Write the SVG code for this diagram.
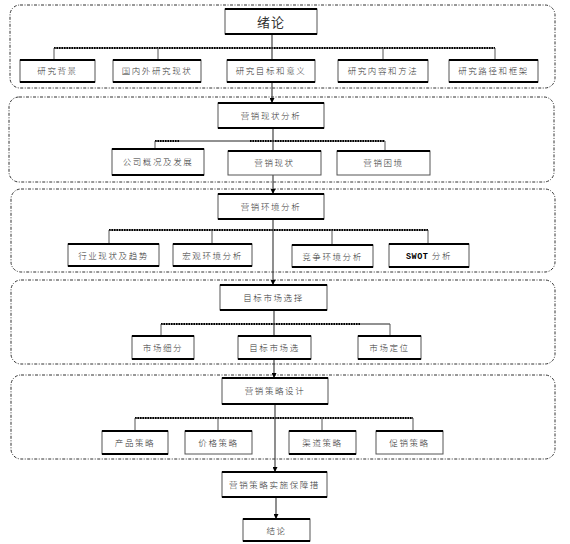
<svg xmlns="http://www.w3.org/2000/svg" width="570" height="544" viewBox="0 0 570 544">
<style>
.sec{fill:none;stroke:#333;stroke-width:1;stroke-dasharray:3 1.5 1 1.5}
.box{fill:#fff;stroke:#555;stroke-width:1}
.tb{fill:none;stroke:#000;stroke-width:2.2}
.t{font-family:"Noto Sans CJK SC","Noto Sans",sans-serif;font-size:8.5px;font-weight:300;fill:#333;text-anchor:middle;letter-spacing:1.6px}
.big{font-size:13px;letter-spacing:1px;font-weight:400}
.bus{fill:none;stroke:#222;stroke-width:1}
.busd{fill:none;stroke:#000;stroke-width:2;stroke-dasharray:1.5 1}
.drop{fill:none;stroke:#555;stroke-width:1}
.main{fill:none;stroke:#444;stroke-width:1.2}
</style>
<defs>
<marker id="ah" viewBox="0 0 8 8" refX="8" refY="4" markerWidth="5" markerHeight="5" orient="auto" markerUnits="userSpaceOnUse">
<path d="M0,0 L8,4 L0,8 z" fill="#000"/>
</marker>
</defs>
<g id="sections">
<rect class="sec" x="10" y="5" width="545" height="83" rx="10"/>
<rect class="sec" x="9" y="97" width="545" height="85" rx="10"/>
<rect class="sec" x="11" y="189" width="544" height="83" rx="10"/>
<rect class="sec" x="11" y="280" width="544" height="84" rx="10"/>
<rect class="sec" x="11" y="375" width="544" height="84" rx="10"/>
</g>
<g id="connectors">
<path class="bus" d="M54,48 H495"/><path class="busd" d="M54,48 H495"/>
<path class="drop" d="M54,48 V60 M158,48 V60 M383,48 V60 M495,48 V60"/>
<path class="bus" d="M155,141 H385"/><path class="busd" d="M155,141 H180 M250,141 H385"/>
<path class="drop" d="M155,141 V149 M385,141 V151"/>
<path class="bus" d="M109,230 H428"/><path class="busd" d="M109,230 H428"/>
<path class="drop" d="M109,230 V244 M212,230 V244 M332,230 V245 M428,230 V244"/>
<path class="bus" d="M161,324 H390"/><path class="busd" d="M161,324 H360"/>
<path class="drop" d="M161,324 V336 M390,324 V336"/>
<path class="bus" d="M135,418 H413"/><path class="busd" d="M135,418 H413"/>
<path class="drop" d="M135,418 V431 M218,418 V431 M322,418 V431 M413,418 V431"/>
<path class="main" d="M272,34 V60"/>
<path class="main" d="M272,82 V103" marker-end="url(#ah)"/>
<path class="main" d="M273,128 V151"/>
<path class="main" d="M273,175 V194" marker-end="url(#ah)"/>
<path class="main" d="M273,219 V285" marker-end="url(#ah)"/>
<path class="main" d="M274,310 V336"/>
<path class="main" d="M274,359 V378" marker-end="url(#ah)"/>
<path class="main" d="M275,404 V472" marker-end="url(#ah)"/>
<path class="main" d="M276,497 V519" marker-end="url(#ah)"/>
</g>
<g id="n0"><rect class="box" x="225" y="9" width="92" height="25"/><path class="tb" d="M225,9 h92 M225,34 h92"/><text class="t big" x="271" y="26.5">绪论</text></g>
<g id="n1"><rect class="box" x="20" y="60" width="75" height="22"/><path class="tb" d="M20,60 h75 M20,82 h75"/><text class="t" x="57.5" y="74">研究背景</text></g>
<g id="n2"><rect class="box" x="113" y="60" width="88" height="22"/><path class="tb" d="M113,60 h88 M113,82 h88"/><text class="t" x="157" y="74">国内外研究现状</text></g>
<g id="n3"><rect class="box" x="227" y="60" width="88" height="22"/><path class="tb" d="M227,60 h88 M227,82 h88"/><text class="t" x="271" y="74">研究目标和意义</text></g>
<g id="n4"><rect class="box" x="338" y="60" width="90" height="22"/><path class="tb" d="M338,60 h90 M338,82 h90"/><text class="t" x="383" y="74">研究内容和方法</text></g>
<g id="n5"><rect class="box" x="449" y="60" width="89" height="22"/><path class="tb" d="M449,60 h89 M449,82 h89"/><text class="t" x="493.5" y="74">研究路径和框架</text></g>
<g id="n6"><rect class="box" x="218" y="103" width="106" height="25"/><path class="tb" d="M218,103 h106 M218,128 h106"/><text class="t" x="271" y="118.5">营销现状分析</text></g>
<g id="n7"><rect class="box" x="112" y="149" width="92" height="26"/><path class="tb" d="M112,149 h92 M112,175 h92"/><text class="t" x="158" y="165">公司概况及发展</text></g>
<g id="n8"><rect class="box" x="228" y="151" width="93" height="24"/><path class="tb" d="M228,151 h93"/><text class="t" x="274.5" y="166">营销现状</text></g>
<g id="n9"><rect class="box" x="337" y="151" width="93" height="24"/><path class="tb" d="M337,151 h93"/><text class="t" x="383.5" y="166">营销困境</text></g>
<g id="n10"><rect class="box" x="218" y="194" width="106" height="25"/><path class="tb" d="M218,194 h106 M218,219 h106"/><text class="t" x="271" y="209.5">营销环境分析</text></g>
<g id="n11"><rect class="box" x="68" y="244" width="91" height="22"/><path class="tb" d="M68,244 h91 M68,266 h91"/><text class="t" x="113.5" y="258.5">行业现状及趋势</text></g>
<g id="n12"><rect class="box" x="173" y="244" width="79" height="22"/><path class="tb" d="M173,244 h79 M173,266 h79"/><text class="t" x="212.5" y="258.5">宏观环境分析</text></g>
<g id="n13"><rect class="box" x="292" y="245" width="81" height="22"/><path class="tb" d="M292,245 h81 M292,267 h81"/><text class="t" x="332.5" y="259.5">竞争环境分析</text></g>
<g id="n14"><rect class="box" x="389" y="244" width="80" height="23"/><path class="tb" d="M389,244 h80 M389,267 h80"/><text class="t" x="429" y="259"><tspan font-family="Liberation Mono,monospace" font-weight="bold" fill="#000" letter-spacing="0.5px">SWOT</tspan> 分析</text></g>
<g id="n15"><rect class="box" x="220" y="285" width="107" height="25"/><path class="tb" d="M220,285 h107 M220,310 h107"/><text class="t" x="273.5" y="300.5">目标市场选择</text></g>
<g id="n16"><rect class="box" x="132" y="336" width="62" height="23"/><path class="tb" d="M132,336 h62 M132,359 h62"/><text class="t" x="163" y="350.5">市场细分</text></g>
<g id="n17"><rect class="box" x="238" y="336" width="73" height="23"/><path class="tb" d="M238,336 h73 M238,359 h73"/><text class="t" x="274.5" y="350.5">目标市场选</text></g>
<g id="n18"><rect class="box" x="358" y="336" width="63" height="23"/><path class="tb" d="M358,336 h63 M358,359 h63"/><text class="t" x="389.5" y="350.5">市场定位</text></g>
<g id="n19"><rect class="box" x="222" y="378" width="106" height="26"/><path class="tb" d="M222,378 h106 M222,404 h106"/><text class="t" x="275" y="394">营销策略设计</text></g>
<g id="n20"><rect class="box" x="102" y="431" width="66" height="23"/><path class="tb" d="M102,431 h66 M102,454 h66"/><text class="t" x="135" y="446">产品策略</text></g>
<g id="n21"><rect class="box" x="185" y="431" width="67" height="23"/><path class="tb" d="M185,431 h67"/><text class="t" x="218.5" y="446">价格策略</text></g>
<g id="n22"><rect class="box" x="289" y="431" width="67" height="23"/><path class="tb" d="M289,431 h67 M289,454 h67"/><text class="t" x="322.5" y="446">渠道策略</text></g>
<g id="n23"><rect class="box" x="376" y="431" width="67" height="23"/><path class="tb" d="M376,431 h67"/><text class="t" x="409.5" y="446">促销策略</text></g>
<g id="n24"><rect class="box" x="222" y="472" width="105" height="25"/><path class="tb" d="M222,472 h105 M222,497 h105"/><text class="t" x="274.5" y="488">营销策略实施保障措</text></g>
<g id="n25"><rect class="box" x="243" y="519" width="67" height="22"/><path class="tb" d="M243,519 h67 M243,541 h67"/><text class="t" x="276.5" y="533.5">结论</text></g>
</svg>
